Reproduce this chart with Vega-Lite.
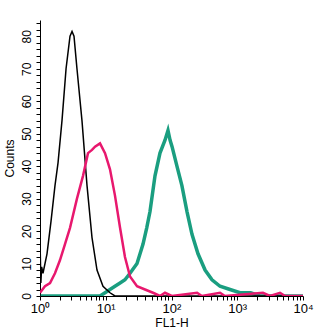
{
  "$schema": "https://vega.github.io/schema/vega-lite/v6.json",
  "autosize": "none",
  "width": 263,
  "height": 276,
  "padding": {"left": 40, "top": 20, "right": 17, "bottom": 39},
  "background": "white",
  "config": {
    "view": {"stroke": null},
    "font": "Liberation Sans",
    "axis": {"grid": false, "domainColor": "black", "tickColor": "black", "labelColor": "black", "titleColor": "black", "titleFontWeight": "normal", "labelFont": "Liberation Sans", "titleFont": "Liberation Sans"}
  },
  "data": {
    "values": [
      {"s": "c", "x": 1.0, "y": 0},
      {"s": "c", "x": 8.18, "y": 0},
      {"s": "c", "x": 9.75, "y": 1},
      {"s": "c", "x": 11.6, "y": 2},
      {"s": "c", "x": 13.8, "y": 3},
      {"s": "c", "x": 16.5, "y": 4},
      {"s": "c", "x": 19.6, "y": 5},
      {"s": "c", "x": 23.4, "y": 7},
      {"s": "c", "x": 29.9, "y": 10},
      {"s": "c", "x": 36.9, "y": 16},
      {"s": "c", "x": 42.0, "y": 21},
      {"s": "c", "x": 47.1, "y": 26},
      {"s": "c", "x": 56.1, "y": 37},
      {"s": "c", "x": 66.8, "y": 44},
      {"s": "c", "x": 79.6, "y": 48},
      {"s": "c", "x": 88.4, "y": 51},
      {"s": "c", "x": 95.0, "y": 48},
      {"s": "c", "x": 102, "y": 46},
      {"s": "c", "x": 121, "y": 40},
      {"s": "c", "x": 144, "y": 34},
      {"s": "c", "x": 172, "y": 26},
      {"s": "c", "x": 205, "y": 19},
      {"s": "c", "x": 253, "y": 13},
      {"s": "c", "x": 324, "y": 8},
      {"s": "c", "x": 413, "y": 5},
      {"s": "c", "x": 547, "y": 3},
      {"s": "c", "x": 777, "y": 2},
      {"s": "c", "x": 1100, "y": 1},
      {"s": "c", "x": 1600, "y": 1},
      {"s": "c", "x": 2220, "y": 0},
      {"s": "c", "x": 10000, "y": 0},
      {"s": "b", "x": 1.0, "y": 0},
      {"s": "b", "x": 1.01, "y": 13},
      {"s": "b", "x": 1.03, "y": 4},
      {"s": "b", "x": 1.06, "y": 9},
      {"s": "b", "x": 1.11, "y": 7},
      {"s": "b", "x": 1.278, "y": 13},
      {"s": "b", "x": 1.47, "y": 23},
      {"s": "b", "x": 1.69, "y": 34},
      {"s": "b", "x": 1.88, "y": 41},
      {"s": "b", "x": 2.16, "y": 54},
      {"s": "b", "x": 2.49, "y": 70},
      {"s": "b", "x": 2.86, "y": 80},
      {"s": "b", "x": 3.07, "y": 81.5},
      {"s": "b", "x": 3.29, "y": 80},
      {"s": "b", "x": 3.65, "y": 70},
      {"s": "b", "x": 4.35, "y": 54},
      {"s": "b", "x": 5.19, "y": 34},
      {"s": "b", "x": 6.18, "y": 18},
      {"s": "b", "x": 7.36, "y": 8},
      {"s": "b", "x": 9.08, "y": 3},
      {"s": "b", "x": 11.6, "y": 1},
      {"s": "b", "x": 13.8, "y": 0},
      {"s": "b", "x": 10000, "y": 0},
      {"s": "p", "x": 1.0, "y": 1},
      {"s": "p", "x": 1.19, "y": 3},
      {"s": "p", "x": 1.42, "y": 4},
      {"s": "p", "x": 1.69, "y": 7},
      {"s": "p", "x": 2.01, "y": 11},
      {"s": "p", "x": 2.4, "y": 16},
      {"s": "p", "x": 2.86, "y": 21},
      {"s": "p", "x": 3.65, "y": 30},
      {"s": "p", "x": 4.51, "y": 37},
      {"s": "p", "x": 5.37, "y": 44},
      {"s": "p", "x": 6.18, "y": 45},
      {"s": "p", "x": 6.87, "y": 46},
      {"s": "p", "x": 8.18, "y": 47},
      {"s": "p", "x": 9.75, "y": 44},
      {"s": "p", "x": 11.6, "y": 39},
      {"s": "p", "x": 13.8, "y": 31},
      {"s": "p", "x": 16.5, "y": 21},
      {"s": "p", "x": 19.6, "y": 12},
      {"s": "p", "x": 23.4, "y": 6},
      {"s": "p", "x": 29.9, "y": 3},
      {"s": "p", "x": 39.5, "y": 2},
      {"s": "p", "x": 52.3, "y": 1},
      {"s": "p", "x": 66.8, "y": 0},
      {"s": "p", "x": 79.6, "y": 1},
      {"s": "p", "x": 101, "y": 0},
      {"s": "p", "x": 245, "y": 1},
      {"s": "p", "x": 290, "y": 0},
      {"s": "p", "x": 547, "y": 1},
      {"s": "p", "x": 650, "y": 0},
      {"s": "p", "x": 2460, "y": 1},
      {"s": "p", "x": 3150, "y": 0},
      {"s": "p", "x": 4470, "y": 1},
      {"s": "p", "x": 5340, "y": 0},
      {"s": "p", "x": 10000, "y": 0}
    ]
  },
  "mark": {"type": "line", "interpolate": "linear", "clip": true},
  "encoding": {
    "x": {
      "field": "x", "type": "quantitative",
      "scale": {"type": "log", "domain": [1, 10000], "nice": false},
      "axis": {
        "title": "FL1-H", "titleFontSize": 12, "titlePadding": 2,
        "values": [1,2,3,4,5,6,7,8,9,10,20,30,40,50,60,70,80,90,100,200,300,400,500,600,700,800,900,1000,2000,3000,4000,5000,6000,7000,8000,9000,10000],
        "labelExpr": "datum.value == 1 ? '10⁰' : datum.value == 10 ? '10¹' : datum.value == 100 ? '10²' : datum.value == 1000 ? '10³' : datum.value == 10000 ? '10⁴' : ''",
        "labelFontSize": 13, "labelPadding": 2, "tickSize": 4, "labelFlush": false, "labelOverlap": false
      }
    },
    "y": {
      "field": "y", "type": "quantitative",
      "scale": {"domain": [0, 85], "nice": false},
      "axis": {
        "title": "Counts", "titleFontSize": 12, "titlePadding": 4,
        "values": [0,2,4,6,8,10,12,14,16,18,20,22,24,26,28,30,32,34,36,38,40,42,44,46,48,50,52,54,56,58,60,62,64,66,68,70,72,74,76,78,80,82,84],
        "labelExpr": "datum.value % 10 == 0 ? datum.value : ''",
        "labelAngle": -90, "labelAlign": "center", "labelBaseline": "bottom",
        "labelFontSize": 12, "labelPadding": 3, "tickSize": 4, "labelOverlap": false
      }
    },
    "color": {
      "field": "s", "type": "nominal",
      "scale": {"domain": ["c", "p", "b"], "range": ["#1a9e80", "#e8186e", "#000000"]},
      "legend": null
    },
    "strokeWidth": {
      "field": "s", "type": "nominal",
      "scale": {"domain": ["c", "p", "b"], "range": [3.5, 1.5, 1.3]},
      "legend": null
    },
    "order": {"field": "x", "type": "quantitative"}
  }
}
